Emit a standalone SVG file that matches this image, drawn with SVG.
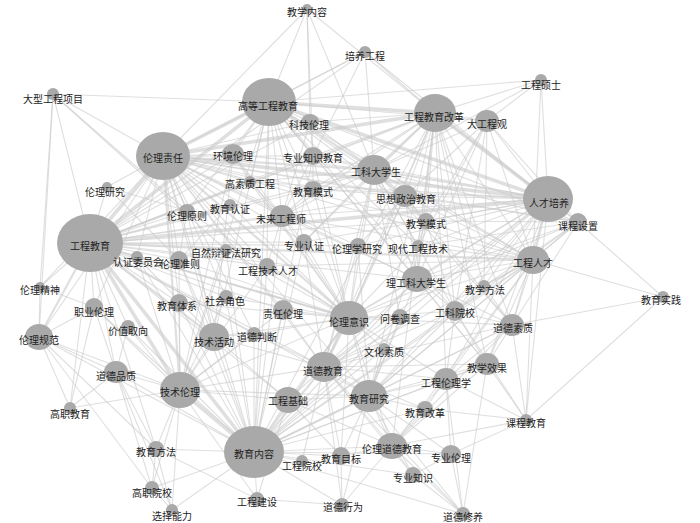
<svg xmlns="http://www.w3.org/2000/svg" width="700" height="523" viewBox="0 0 700 523">
<style>
#edges line{stroke:#c9c9c9;stroke-opacity:.6;stroke-width:1.1}
#edges line.m{stroke-width:2.2}
#edges line.t{stroke-width:3.6}
.nd ellipse{fill:#a9a9a9}
.nd text{font-family:"Noto Sans CJK SC","Noto Sans",sans-serif;font-size:10px;fill:#222;text-anchor:middle;dominant-baseline:central}
</style>
<rect width="700" height="523" fill="#fff"/>
<g id="edges">
<line x1="307" y1="9" x2="269" y2="102"/><line x1="307" y1="9" x2="310" y2="122"/><line x1="307" y1="9" x2="163" y2="156"/><line x1="307" y1="9" x2="435" y2="113"/><line x1="307" y1="9" x2="374" y2="170"/><line x1="307" y1="9" x2="313" y2="156"/>
<line x1="365" y1="52" x2="269" y2="102"/><line x1="365" y1="52" x2="163" y2="156"/><line x1="365" y1="52" x2="435" y2="113"/><line x1="365" y1="52" x2="374" y2="170"/><line x1="365" y1="52" x2="548" y2="199"/><line x1="365" y1="52" x2="90" y2="243"/><line x1="365" y1="52" x2="313" y2="156"/>
<line x1="541" y1="80" x2="269" y2="102"/><line x1="541" y1="80" x2="435" y2="113"/><line x1="541" y1="80" x2="487" y2="121"/><line x1="541" y1="80" x2="548" y2="199"/><line x1="541" y1="80" x2="533" y2="260"/><line x1="541" y1="80" x2="374" y2="170"/>
<line x1="53" y1="94" x2="269" y2="102"/><line x1="53" y1="94" x2="163" y2="156"/><line x1="53" y1="94" x2="90" y2="243"/><line x1="53" y1="94" x2="39" y2="337"/><line x1="53" y1="94" x2="226" y2="250"/><line x1="53" y1="94" x2="187" y2="211"/><line x1="53" y1="94" x2="40" y2="287"/>
<line class="t" x1="269" y1="102" x2="435" y2="113"/><line x1="269" y1="102" x2="487" y2="121"/><line x1="269" y1="102" x2="310" y2="122"/><line class="t" x1="269" y1="102" x2="163" y2="156"/><line x1="269" y1="102" x2="233" y2="154"/><line x1="269" y1="102" x2="313" y2="156"/><line class="m" x1="269" y1="102" x2="374" y2="170"/><line x1="269" y1="102" x2="250" y2="182"/><line x1="269" y1="102" x2="313" y2="189"/><line x1="269" y1="102" x2="405" y2="196"/><line class="t" x1="269" y1="102" x2="548" y2="199"/><line x1="269" y1="102" x2="187" y2="211"/><line x1="269" y1="102" x2="282" y2="216"/><line x1="269" y1="102" x2="426" y2="221"/><line x1="269" y1="102" x2="578" y2="222"/><line class="t" x1="269" y1="102" x2="90" y2="243"/><line x1="269" y1="102" x2="304" y2="242"/><line x1="269" y1="102" x2="418" y2="246"/><line x1="269" y1="102" x2="267" y2="266"/><line x1="269" y1="102" x2="533" y2="260"/><line x1="269" y1="102" x2="417" y2="279"/><line x1="269" y1="102" x2="349" y2="318"/><line x1="269" y1="102" x2="455" y2="311"/><line x1="269" y1="102" x2="214" y2="337"/><line x1="269" y1="102" x2="487" y2="364"/><line x1="269" y1="102" x2="180" y2="390"/><line x1="269" y1="102" x2="254" y2="452"/>
<line x1="435" y1="113" x2="487" y2="121"/><line x1="435" y1="113" x2="310" y2="122"/><line class="t" x1="435" y1="113" x2="163" y2="156"/><line x1="435" y1="113" x2="313" y2="156"/><line class="m" x1="435" y1="113" x2="374" y2="170"/><line x1="435" y1="113" x2="313" y2="189"/><line x1="435" y1="113" x2="405" y2="196"/><line class="t" x1="435" y1="113" x2="548" y2="199"/><line x1="435" y1="113" x2="282" y2="216"/><line x1="435" y1="113" x2="426" y2="221"/><line x1="435" y1="113" x2="578" y2="222"/><line class="m" x1="435" y1="113" x2="90" y2="243"/><line x1="435" y1="113" x2="304" y2="242"/><line x1="435" y1="113" x2="418" y2="246"/><line x1="435" y1="113" x2="533" y2="260"/><line x1="435" y1="113" x2="417" y2="279"/><line x1="435" y1="113" x2="484" y2="286"/><line x1="435" y1="113" x2="349" y2="318"/><line x1="435" y1="113" x2="455" y2="311"/><line x1="435" y1="113" x2="512" y2="325"/><line x1="435" y1="113" x2="487" y2="364"/><line x1="435" y1="113" x2="324" y2="367"/><line x1="435" y1="113" x2="446" y2="379"/><line x1="435" y1="113" x2="369" y2="396"/><line x1="435" y1="113" x2="254" y2="452"/><line x1="435" y1="113" x2="392" y2="446"/>
<line x1="487" y1="121" x2="374" y2="170"/><line x1="487" y1="121" x2="405" y2="196"/><line x1="487" y1="121" x2="548" y2="199"/><line x1="487" y1="121" x2="426" y2="221"/><line x1="487" y1="121" x2="578" y2="222"/><line x1="487" y1="121" x2="418" y2="246"/><line x1="487" y1="121" x2="533" y2="260"/><line x1="487" y1="121" x2="417" y2="279"/><line x1="487" y1="121" x2="455" y2="311"/><line x1="487" y1="121" x2="484" y2="286"/>
<line x1="310" y1="122" x2="163" y2="156"/><line x1="310" y1="122" x2="374" y2="170"/><line x1="310" y1="122" x2="313" y2="156"/><line x1="310" y1="122" x2="90" y2="243"/><line x1="310" y1="122" x2="282" y2="216"/>
<line x1="163" y1="156" x2="233" y2="154"/><line x1="163" y1="156" x2="313" y2="156"/><line class="m" x1="163" y1="156" x2="374" y2="170"/><line x1="163" y1="156" x2="250" y2="182"/><line x1="163" y1="156" x2="313" y2="189"/><line x1="163" y1="156" x2="405" y2="196"/><line class="t" x1="163" y1="156" x2="548" y2="199"/><line x1="163" y1="156" x2="107" y2="187"/><line x1="163" y1="156" x2="230" y2="205"/><line x1="163" y1="156" x2="187" y2="211"/><line x1="163" y1="156" x2="282" y2="216"/><line x1="163" y1="156" x2="426" y2="221"/><line x1="163" y1="156" x2="578" y2="222"/><line class="t" x1="163" y1="156" x2="90" y2="243"/><line x1="163" y1="156" x2="304" y2="242"/><line x1="163" y1="156" x2="358" y2="246"/><line x1="163" y1="156" x2="137" y2="257"/><line x1="163" y1="156" x2="179" y2="260"/><line x1="163" y1="156" x2="267" y2="266"/><line x1="163" y1="156" x2="533" y2="260"/><line x1="163" y1="156" x2="417" y2="279"/><line x1="163" y1="156" x2="226" y2="297"/><line x1="163" y1="156" x2="94" y2="307"/><line x1="163" y1="156" x2="179" y2="303"/><line x1="163" y1="156" x2="283" y2="310"/><line class="m" x1="163" y1="156" x2="349" y2="318"/><line x1="163" y1="156" x2="39" y2="337"/><line x1="163" y1="156" x2="214" y2="337"/><line x1="163" y1="156" x2="254" y2="334"/><line x1="163" y1="156" x2="324" y2="367"/><line class="m" x1="163" y1="156" x2="180" y2="390"/><line x1="163" y1="156" x2="369" y2="396"/><line x1="163" y1="156" x2="254" y2="452"/>
<line x1="233" y1="154" x2="90" y2="243"/><line x1="233" y1="154" x2="374" y2="170"/><line x1="233" y1="154" x2="282" y2="216"/><line x1="233" y1="154" x2="250" y2="182"/><line x1="233" y1="154" x2="214" y2="337"/><line x1="233" y1="154" x2="180" y2="390"/><line x1="233" y1="154" x2="349" y2="318"/>
<line x1="313" y1="156" x2="374" y2="170"/><line x1="313" y1="156" x2="313" y2="189"/><line x1="313" y1="156" x2="282" y2="216"/><line x1="313" y1="156" x2="90" y2="243"/><line x1="313" y1="156" x2="548" y2="199"/><line x1="313" y1="156" x2="349" y2="318"/><line x1="313" y1="156" x2="254" y2="452"/>
<line x1="374" y1="170" x2="250" y2="182"/><line x1="374" y1="170" x2="313" y2="189"/><line x1="374" y1="170" x2="405" y2="196"/><line class="m" x1="374" y1="170" x2="548" y2="199"/><line x1="374" y1="170" x2="282" y2="216"/><line x1="374" y1="170" x2="426" y2="221"/><line x1="374" y1="170" x2="578" y2="222"/><line x1="374" y1="170" x2="90" y2="243"/><line x1="374" y1="170" x2="304" y2="242"/><line x1="374" y1="170" x2="358" y2="246"/><line x1="374" y1="170" x2="418" y2="246"/><line x1="374" y1="170" x2="533" y2="260"/><line x1="374" y1="170" x2="417" y2="279"/><line x1="374" y1="170" x2="349" y2="318"/><line x1="374" y1="170" x2="400" y2="317"/><line x1="374" y1="170" x2="455" y2="311"/><line x1="374" y1="170" x2="512" y2="325"/><line x1="374" y1="170" x2="324" y2="367"/>
<line x1="250" y1="182" x2="90" y2="243"/><line x1="250" y1="182" x2="282" y2="216"/><line x1="250" y1="182" x2="548" y2="199"/><line x1="250" y1="182" x2="349" y2="318"/>
<line x1="313" y1="189" x2="548" y2="199"/><line x1="313" y1="189" x2="90" y2="243"/><line x1="313" y1="189" x2="282" y2="216"/><line x1="313" y1="189" x2="349" y2="318"/><line x1="313" y1="189" x2="405" y2="196"/>
<line x1="405" y1="196" x2="548" y2="199"/><line x1="405" y1="196" x2="578" y2="222"/><line x1="405" y1="196" x2="90" y2="243"/><line x1="405" y1="196" x2="533" y2="260"/><line x1="405" y1="196" x2="417" y2="279"/><line x1="405" y1="196" x2="349" y2="318"/><line x1="405" y1="196" x2="324" y2="367"/><line x1="405" y1="196" x2="512" y2="325"/><line x1="405" y1="196" x2="426" y2="221"/><line x1="405" y1="196" x2="358" y2="246"/>
<line x1="548" y1="199" x2="282" y2="216"/><line x1="548" y1="199" x2="426" y2="221"/><line x1="548" y1="199" x2="578" y2="222"/><line class="t" x1="548" y1="199" x2="90" y2="243"/><line x1="548" y1="199" x2="358" y2="246"/><line x1="548" y1="199" x2="418" y2="246"/><line class="m" x1="548" y1="199" x2="533" y2="260"/><line x1="548" y1="199" x2="417" y2="279"/><line x1="548" y1="199" x2="484" y2="286"/><line x1="548" y1="199" x2="349" y2="318"/><line x1="548" y1="199" x2="400" y2="317"/><line x1="548" y1="199" x2="455" y2="311"/><line x1="548" y1="199" x2="512" y2="325"/><line x1="548" y1="199" x2="487" y2="364"/><line x1="548" y1="199" x2="324" y2="367"/><line x1="548" y1="199" x2="446" y2="379"/><line x1="548" y1="199" x2="369" y2="396"/><line x1="548" y1="199" x2="526" y2="420"/><line x1="548" y1="199" x2="254" y2="452"/>
<line x1="107" y1="187" x2="90" y2="243"/><line x1="107" y1="187" x2="179" y2="260"/><line x1="107" y1="187" x2="187" y2="211"/>
<line x1="230" y1="205" x2="90" y2="243"/><line x1="230" y1="205" x2="349" y2="318"/><line x1="230" y1="205" x2="179" y2="260"/>
<line x1="187" y1="211" x2="90" y2="243"/><line x1="187" y1="211" x2="179" y2="260"/><line x1="187" y1="211" x2="349" y2="318"/><line x1="187" y1="211" x2="214" y2="337"/>
<line x1="282" y1="216" x2="90" y2="243"/><line x1="282" y1="216" x2="304" y2="242"/><line x1="282" y1="216" x2="267" y2="266"/><line x1="282" y1="216" x2="533" y2="260"/><line x1="282" y1="216" x2="349" y2="318"/><line x1="282" y1="216" x2="254" y2="452"/><line x1="282" y1="216" x2="417" y2="279"/>
<line x1="426" y1="221" x2="90" y2="243"/><line x1="426" y1="221" x2="578" y2="222"/><line x1="426" y1="221" x2="533" y2="260"/><line x1="426" y1="221" x2="417" y2="279"/><line x1="426" y1="221" x2="455" y2="311"/><line x1="426" y1="221" x2="369" y2="396"/>
<line x1="578" y1="222" x2="533" y2="260"/><line x1="578" y1="222" x2="417" y2="279"/><line x1="578" y1="222" x2="663" y2="297"/><line x1="578" y1="222" x2="455" y2="311"/><line x1="578" y1="222" x2="512" y2="325"/><line x1="578" y1="222" x2="418" y2="246"/><line x1="578" y1="222" x2="484" y2="286"/><line x1="578" y1="222" x2="349" y2="318"/><line x1="578" y1="222" x2="369" y2="396"/>
<line x1="90" y1="243" x2="304" y2="242"/><line x1="90" y1="243" x2="358" y2="246"/><line x1="90" y1="243" x2="226" y2="250"/><line x1="90" y1="243" x2="137" y2="257"/><line x1="90" y1="243" x2="179" y2="260"/><line x1="90" y1="243" x2="267" y2="266"/><line class="m" x1="90" y1="243" x2="533" y2="260"/><line x1="90" y1="243" x2="40" y2="287"/><line x1="90" y1="243" x2="417" y2="279"/><line x1="90" y1="243" x2="226" y2="297"/><line x1="90" y1="243" x2="94" y2="307"/><line x1="90" y1="243" x2="179" y2="303"/><line x1="90" y1="243" x2="283" y2="310"/><line class="m" x1="90" y1="243" x2="349" y2="318"/><line x1="90" y1="243" x2="128" y2="327"/><line class="m" x1="90" y1="243" x2="39" y2="337"/><line class="m" x1="90" y1="243" x2="214" y2="337"/><line x1="90" y1="243" x2="254" y2="334"/><line x1="90" y1="243" x2="324" y2="367"/><line x1="90" y1="243" x2="116" y2="372"/><line class="t" x1="90" y1="243" x2="180" y2="390"/><line x1="90" y1="243" x2="369" y2="396"/><line x1="90" y1="243" x2="288" y2="400"/><line x1="90" y1="243" x2="70" y2="408"/><line class="t" x1="90" y1="243" x2="254" y2="452"/><line x1="90" y1="243" x2="156" y2="449"/>
<line x1="304" y1="242" x2="349" y2="318"/><line x1="304" y1="242" x2="324" y2="367"/><line x1="304" y1="242" x2="254" y2="452"/><line x1="304" y1="242" x2="548" y2="199"/>
<line x1="358" y1="246" x2="349" y2="318"/><line x1="358" y1="246" x2="324" y2="367"/><line x1="358" y1="246" x2="369" y2="396"/>
<line x1="418" y1="246" x2="533" y2="260"/><line x1="418" y1="246" x2="417" y2="279"/><line x1="418" y1="246" x2="349" y2="318"/>
<line x1="226" y1="250" x2="349" y2="318"/><line x1="226" y1="250" x2="180" y2="390"/><line x1="226" y1="250" x2="254" y2="452"/>
<line x1="137" y1="257" x2="180" y2="390"/><line x1="137" y1="257" x2="349" y2="318"/><line x1="137" y1="257" x2="254" y2="452"/><line x1="137" y1="257" x2="214" y2="337"/>
<line x1="179" y1="260" x2="180" y2="390"/><line x1="179" y1="260" x2="349" y2="318"/><line x1="179" y1="260" x2="214" y2="337"/><line x1="179" y1="260" x2="254" y2="452"/>
<line x1="267" y1="266" x2="349" y2="318"/><line x1="267" y1="266" x2="180" y2="390"/><line x1="267" y1="266" x2="254" y2="452"/><line x1="267" y1="266" x2="533" y2="260"/>
<line x1="533" y1="260" x2="417" y2="279"/><line x1="533" y1="260" x2="484" y2="286"/><line x1="533" y1="260" x2="663" y2="297"/><line x1="533" y1="260" x2="349" y2="318"/><line x1="533" y1="260" x2="455" y2="311"/><line x1="533" y1="260" x2="512" y2="325"/><line x1="533" y1="260" x2="487" y2="364"/><line x1="533" y1="260" x2="324" y2="367"/><line x1="533" y1="260" x2="446" y2="379"/><line x1="533" y1="260" x2="369" y2="396"/><line x1="533" y1="260" x2="526" y2="420"/><line x1="533" y1="260" x2="254" y2="452"/><line x1="533" y1="260" x2="392" y2="446"/>
<line x1="40" y1="287" x2="39" y2="337"/><line x1="40" y1="287" x2="163" y2="156"/><line x1="40" y1="287" x2="94" y2="307"/>
<line x1="417" y1="279" x2="349" y2="318"/><line x1="417" y1="279" x2="455" y2="311"/><line x1="417" y1="279" x2="512" y2="325"/><line x1="417" y1="279" x2="324" y2="367"/><line x1="417" y1="279" x2="369" y2="396"/><line x1="417" y1="279" x2="487" y2="364"/><line x1="417" y1="279" x2="254" y2="452"/>
<line x1="484" y1="286" x2="512" y2="325"/><line x1="484" y1="286" x2="455" y2="311"/>
<line x1="663" y1="297" x2="512" y2="325"/><line x1="663" y1="297" x2="526" y2="420"/>
<line x1="226" y1="297" x2="180" y2="390"/><line x1="226" y1="297" x2="254" y2="452"/><line x1="226" y1="297" x2="349" y2="318"/>
<line x1="94" y1="307" x2="39" y2="337"/><line x1="94" y1="307" x2="180" y2="390"/><line x1="94" y1="307" x2="254" y2="452"/><line x1="94" y1="307" x2="116" y2="372"/><line x1="94" y1="307" x2="70" y2="408"/>
<line x1="179" y1="303" x2="180" y2="390"/><line x1="179" y1="303" x2="254" y2="452"/><line x1="179" y1="303" x2="349" y2="318"/>
<line x1="283" y1="310" x2="349" y2="318"/><line x1="283" y1="310" x2="324" y2="367"/><line x1="283" y1="310" x2="180" y2="390"/><line x1="283" y1="310" x2="254" y2="452"/>
<line x1="349" y1="318" x2="400" y2="317"/><line x1="349" y1="318" x2="455" y2="311"/><line x1="349" y1="318" x2="512" y2="325"/><line x1="349" y1="318" x2="214" y2="337"/><line x1="349" y1="318" x2="254" y2="334"/><line x1="349" y1="318" x2="384" y2="349"/><line class="m" x1="349" y1="318" x2="324" y2="367"/><line x1="349" y1="318" x2="180" y2="390"/><line x1="349" y1="318" x2="446" y2="379"/><line x1="349" y1="318" x2="369" y2="396"/><line x1="349" y1="318" x2="288" y2="400"/><line class="m" x1="349" y1="318" x2="254" y2="452"/><line x1="349" y1="318" x2="392" y2="446"/><line x1="349" y1="318" x2="341" y2="456"/>
<line x1="400" y1="317" x2="324" y2="367"/><line x1="400" y1="317" x2="369" y2="396"/><line x1="400" y1="317" x2="254" y2="452"/>
<line x1="455" y1="311" x2="512" y2="325"/><line x1="455" y1="311" x2="487" y2="364"/><line x1="455" y1="311" x2="324" y2="367"/><line x1="455" y1="311" x2="446" y2="379"/><line x1="455" y1="311" x2="369" y2="396"/><line x1="455" y1="311" x2="254" y2="452"/><line x1="455" y1="311" x2="526" y2="420"/>
<line x1="512" y1="325" x2="487" y2="364"/><line x1="512" y1="325" x2="324" y2="367"/><line x1="512" y1="325" x2="446" y2="379"/><line x1="512" y1="325" x2="369" y2="396"/><line x1="512" y1="325" x2="526" y2="420"/><line x1="512" y1="325" x2="254" y2="452"/><line x1="512" y1="325" x2="392" y2="446"/>
<line x1="128" y1="327" x2="180" y2="390"/><line x1="128" y1="327" x2="254" y2="452"/><line x1="128" y1="327" x2="116" y2="372"/>
<line x1="39" y1="337" x2="116" y2="372"/><line x1="39" y1="337" x2="180" y2="390"/><line x1="39" y1="337" x2="70" y2="408"/><line x1="39" y1="337" x2="254" y2="452"/><line x1="39" y1="337" x2="156" y2="449"/><line x1="39" y1="337" x2="152" y2="488"/>
<line x1="214" y1="337" x2="254" y2="334"/><line x1="214" y1="337" x2="324" y2="367"/><line x1="214" y1="337" x2="180" y2="390"/><line x1="214" y1="337" x2="288" y2="400"/><line x1="214" y1="337" x2="254" y2="452"/>
<line x1="254" y1="334" x2="180" y2="390"/><line x1="254" y1="334" x2="254" y2="452"/><line x1="254" y1="334" x2="324" y2="367"/>
<line x1="384" y1="349" x2="324" y2="367"/><line x1="384" y1="349" x2="369" y2="396"/><line x1="384" y1="349" x2="254" y2="452"/>
<line x1="487" y1="364" x2="324" y2="367"/><line x1="487" y1="364" x2="446" y2="379"/><line x1="487" y1="364" x2="369" y2="396"/><line x1="487" y1="364" x2="526" y2="420"/><line x1="487" y1="364" x2="254" y2="452"/><line x1="487" y1="364" x2="392" y2="446"/><line x1="487" y1="364" x2="463" y2="514"/>
<line x1="324" y1="367" x2="446" y2="379"/><line x1="324" y1="367" x2="369" y2="396"/><line x1="324" y1="367" x2="288" y2="400"/><line x1="324" y1="367" x2="425" y2="409"/><line class="m" x1="324" y1="367" x2="254" y2="452"/><line x1="324" y1="367" x2="392" y2="446"/><line x1="324" y1="367" x2="341" y2="456"/><line x1="324" y1="367" x2="302" y2="461"/><line x1="324" y1="367" x2="413" y2="475"/><line x1="324" y1="367" x2="342" y2="505"/><line x1="324" y1="367" x2="463" y2="514"/>
<line x1="116" y1="372" x2="180" y2="390"/><line x1="116" y1="372" x2="70" y2="408"/><line x1="116" y1="372" x2="254" y2="452"/><line x1="116" y1="372" x2="156" y2="449"/><line x1="116" y1="372" x2="152" y2="488"/><line x1="116" y1="372" x2="172" y2="510"/>
<line x1="180" y1="390" x2="288" y2="400"/><line x1="180" y1="390" x2="70" y2="408"/><line class="t" x1="180" y1="390" x2="254" y2="452"/><line x1="180" y1="390" x2="156" y2="449"/><line x1="180" y1="390" x2="152" y2="488"/><line x1="180" y1="390" x2="172" y2="510"/><line x1="180" y1="390" x2="257" y2="499"/><line x1="180" y1="390" x2="369" y2="396"/><line x1="180" y1="390" x2="324" y2="367"/>
<line x1="446" y1="379" x2="369" y2="396"/><line x1="446" y1="379" x2="425" y2="409"/><line x1="446" y1="379" x2="526" y2="420"/><line x1="446" y1="379" x2="254" y2="452"/><line x1="446" y1="379" x2="392" y2="446"/><line x1="446" y1="379" x2="451" y2="454"/><line x1="446" y1="379" x2="463" y2="514"/>
<line x1="369" y1="396" x2="288" y2="400"/><line x1="369" y1="396" x2="425" y2="409"/><line class="m" x1="369" y1="396" x2="254" y2="452"/><line x1="369" y1="396" x2="392" y2="446"/><line x1="369" y1="396" x2="451" y2="454"/><line x1="369" y1="396" x2="341" y2="456"/><line x1="369" y1="396" x2="413" y2="475"/><line x1="369" y1="396" x2="342" y2="505"/><line x1="369" y1="396" x2="463" y2="514"/>
<line x1="288" y1="400" x2="254" y2="452"/><line x1="288" y1="400" x2="392" y2="446"/><line x1="288" y1="400" x2="341" y2="456"/><line x1="288" y1="400" x2="257" y2="499"/>
<line x1="425" y1="409" x2="526" y2="420"/><line x1="425" y1="409" x2="254" y2="452"/><line x1="425" y1="409" x2="392" y2="446"/>
<line x1="526" y1="420" x2="392" y2="446"/><line x1="526" y1="420" x2="451" y2="454"/>
<line x1="254" y1="452" x2="156" y2="449"/><line x1="254" y1="452" x2="392" y2="446"/><line x1="254" y1="452" x2="451" y2="454"/><line x1="254" y1="452" x2="341" y2="456"/><line x1="254" y1="452" x2="302" y2="461"/><line x1="254" y1="452" x2="413" y2="475"/><line x1="254" y1="452" x2="152" y2="488"/><line x1="254" y1="452" x2="257" y2="499"/><line x1="254" y1="452" x2="342" y2="505"/><line x1="254" y1="452" x2="463" y2="514"/><line x1="254" y1="452" x2="172" y2="510"/>
<line x1="156" y1="449" x2="152" y2="488"/><line x1="156" y1="449" x2="172" y2="510"/><line x1="156" y1="449" x2="257" y2="499"/>
<line x1="392" y1="446" x2="451" y2="454"/><line x1="392" y1="446" x2="341" y2="456"/><line x1="392" y1="446" x2="413" y2="475"/><line x1="392" y1="446" x2="342" y2="505"/><line x1="392" y1="446" x2="463" y2="514"/>
<line x1="451" y1="454" x2="413" y2="475"/><line x1="451" y1="454" x2="463" y2="514"/>
<line x1="341" y1="456" x2="342" y2="505"/><line x1="413" y1="475" x2="463" y2="514"/><line x1="152" y1="488" x2="172" y2="510"/><line x1="257" y1="499" x2="342" y2="505"/>
</g>
<g id="n1" class="nd"><ellipse cx="307" cy="9" rx="5" ry="5"/><text x="307" y="11">教学内容</text></g>
<g id="n2" class="nd"><ellipse cx="365" cy="52" rx="6" ry="6"/><text x="365" y="55">培养工程</text></g>
<g id="n3" class="nd"><ellipse cx="541" cy="80" rx="6" ry="6"/><text x="541" y="84">工程硕士</text></g>
<g id="n4" class="nd"><ellipse cx="53" cy="94" rx="6" ry="6"/><text x="53" y="98">大型工程项目</text></g>
<g id="n5" class="nd"><ellipse cx="269" cy="102" rx="27" ry="24"/><text x="268" y="105">高等工程教育</text></g>
<g id="n6" class="nd"><ellipse cx="435" cy="113" rx="21" ry="19"/><text x="434" y="116">工程教育改革</text></g>
<g id="n7" class="nd"><ellipse cx="487" cy="121" rx="12" ry="11"/><text x="487" y="123">大工程观</text></g>
<g id="n8" class="nd"><ellipse cx="310" cy="122" rx="9" ry="8"/><text x="309" y="124">科技伦理</text></g>
<g id="n9" class="nd"><ellipse cx="163" cy="156" rx="27" ry="24"/><text x="163" y="157">伦理责任</text></g>
<g id="n10" class="nd"><ellipse cx="233" cy="154" rx="11" ry="10"/><text x="233" y="155">环境伦理</text></g>
<g id="n11" class="nd"><ellipse cx="313" cy="156" rx="10" ry="9"/><text x="313" y="157">专业知识教育</text></g>
<g id="n12" class="nd"><ellipse cx="374" cy="170" rx="17" ry="15"/><text x="376" y="171">工科大学生</text></g>
<g id="n13" class="nd"><ellipse cx="250" cy="182" rx="6" ry="6"/><text x="250" y="183">高素质工程</text></g>
<g id="n14" class="nd"><ellipse cx="313" cy="189" rx="9" ry="8"/><text x="313" y="191">教育模式</text></g>
<g id="n15" class="nd"><ellipse cx="405" cy="196" rx="12" ry="11"/><text x="406" y="198">思想政治教育</text></g>
<g id="n16" class="nd"><ellipse cx="548" cy="199" rx="25" ry="23"/><text x="549" y="202">人才培养</text></g>
<g id="n17" class="nd"><ellipse cx="107" cy="187" rx="5" ry="5"/><text x="105" y="191">伦理研究</text></g>
<g id="n18" class="nd"><ellipse cx="230" cy="205" rx="6" ry="6"/><text x="230" y="208">教育认证</text></g>
<g id="n19" class="nd"><ellipse cx="187" cy="211" rx="8" ry="7"/><text x="187" y="215">伦理原则</text></g>
<g id="n20" class="nd"><ellipse cx="282" cy="216" rx="12" ry="11"/><text x="281" y="218">未来工程师</text></g>
<g id="n21" class="nd"><ellipse cx="426" cy="221" rx="8" ry="8"/><text x="426" y="223">教学模式</text></g>
<g id="n22" class="nd"><ellipse cx="578" cy="222" rx="9" ry="9"/><text x="578" y="225">课程设置</text></g>
<g id="n23" class="nd"><ellipse cx="90" cy="243" rx="33" ry="29"/><text x="90" y="245">工程教育</text></g>
<g id="n24" class="nd"><ellipse cx="304" cy="242" rx="8" ry="8"/><text x="304" y="245">专业认证</text></g>
<g id="n25" class="nd"><ellipse cx="358" cy="246" rx="8" ry="8"/><text x="357" y="248">伦理学研究</text></g>
<g id="n26" class="nd"><ellipse cx="418" cy="246" rx="6" ry="6"/><text x="418" y="248">现代工程技术</text></g>
<g id="n27" class="nd"><ellipse cx="226" cy="250" rx="6" ry="6"/><text x="226" y="252">自然辩证法研究</text></g>
<g id="n28" class="nd"><ellipse cx="137" cy="257" rx="6" ry="6"/><text x="138" y="261">认证委员会</text></g>
<g id="n29" class="nd"><ellipse cx="179" cy="260" rx="9" ry="9"/><text x="180" y="263">伦理准则</text></g>
<g id="n30" class="nd"><ellipse cx="267" cy="266" rx="8" ry="8"/><text x="268" y="270">工程技术人才</text></g>
<g id="n31" class="nd"><ellipse cx="533" cy="260" rx="16" ry="14"/><text x="533" y="262">工程人才</text></g>
<g id="n32" class="nd"><ellipse cx="40" cy="287" rx="5" ry="5"/><text x="40" y="289">伦理精神</text></g>
<g id="n33" class="nd"><ellipse cx="417" cy="279" rx="15" ry="13"/><text x="416" y="282">理工科大学生</text></g>
<g id="n34" class="nd"><ellipse cx="484" cy="286" rx="6" ry="6"/><text x="485" y="289">教学方法</text></g>
<g id="n35" class="nd"><ellipse cx="663" cy="297" rx="6" ry="6"/><text x="661" y="299">教育实践</text></g>
<g id="n36" class="nd"><ellipse cx="226" cy="297" rx="7" ry="7"/><text x="225" y="300">社会角色</text></g>
<g id="n37" class="nd"><ellipse cx="94" cy="307" rx="9" ry="9"/><text x="94" y="311">职业伦理</text></g>
<g id="n38" class="nd"><ellipse cx="179" cy="303" rx="9" ry="9"/><text x="177" y="305">教育体系</text></g>
<g id="n39" class="nd"><ellipse cx="283" cy="310" rx="10" ry="10"/><text x="283" y="313">责任伦理</text></g>
<g id="n40" class="nd"><ellipse cx="349" cy="318" rx="19" ry="17"/><text x="349" y="321">伦理意识</text></g>
<g id="n41" class="nd"><ellipse cx="400" cy="317" rx="8" ry="8"/><text x="400" y="318">问卷调查</text></g>
<g id="n42" class="nd"><ellipse cx="455" cy="311" rx="10" ry="10"/><text x="455" y="312">工科院校</text></g>
<g id="n43" class="nd"><ellipse cx="512" cy="325" rx="12" ry="11"/><text x="513" y="327">道德素质</text></g>
<g id="n44" class="nd"><ellipse cx="128" cy="327" rx="7" ry="7"/><text x="128" y="330">价值取向</text></g>
<g id="n45" class="nd"><ellipse cx="39" cy="337" rx="14" ry="13"/><text x="39" y="339">伦理规范</text></g>
<g id="n46" class="nd"><ellipse cx="214" cy="337" rx="15" ry="14"/><text x="214" y="341">技术活动</text></g>
<g id="n47" class="nd"><ellipse cx="254" cy="334" rx="7" ry="7"/><text x="257" y="336">道德判断</text></g>
<g id="n48" class="nd"><ellipse cx="384" cy="349" rx="6" ry="6"/><text x="384" y="351">文化素质</text></g>
<g id="n49" class="nd"><ellipse cx="487" cy="364" rx="12" ry="11"/><text x="487" y="367">教学效果</text></g>
<g id="n50" class="nd"><ellipse cx="324" cy="367" rx="17" ry="15"/><text x="323" y="370">道德教育</text></g>
<g id="n51" class="nd"><ellipse cx="116" cy="372" rx="12" ry="11"/><text x="116" y="375">道德品质</text></g>
<g id="n52" class="nd"><ellipse cx="180" cy="390" rx="20" ry="18"/><text x="180" y="391">技术伦理</text></g>
<g id="n53" class="nd"><ellipse cx="446" cy="379" rx="12" ry="11"/><text x="446" y="382">工程伦理学</text></g>
<g id="n54" class="nd"><ellipse cx="369" cy="396" rx="18" ry="16"/><text x="369" y="398">教育研究</text></g>
<g id="n55" class="nd"><ellipse cx="288" cy="400" rx="14" ry="13"/><text x="288" y="400">工程基础</text></g>
<g id="n56" class="nd"><ellipse cx="425" cy="409" rx="8" ry="8"/><text x="425" y="412">教育改革</text></g>
<g id="n57" class="nd"><ellipse cx="526" cy="420" rx="6" ry="6"/><text x="526" y="422">课程教育</text></g>
<g id="n58" class="nd"><ellipse cx="70" cy="408" rx="6" ry="6"/><text x="70" y="413">高职教育</text></g>
<g id="n59" class="nd"><ellipse cx="254" cy="452" rx="30" ry="26"/><text x="254" y="453">教育内容</text></g>
<g id="n60" class="nd"><ellipse cx="156" cy="449" rx="8" ry="8"/><text x="156" y="451">教育方法</text></g>
<g id="n61" class="nd"><ellipse cx="392" cy="446" rx="15" ry="13"/><text x="392" y="448">伦理道德教育</text></g>
<g id="n62" class="nd"><ellipse cx="451" cy="454" rx="10" ry="9"/><text x="451" y="457">专业伦理</text></g>
<g id="n63" class="nd"><ellipse cx="341" cy="456" rx="9" ry="9"/><text x="341" y="458">教育目标</text></g>
<g id="n64" class="nd"><ellipse cx="302" cy="461" rx="6" ry="6"/><text x="302" y="465">工程院校</text></g>
<g id="n65" class="nd"><ellipse cx="413" cy="475" rx="8" ry="8"/><text x="413" y="477">专业知识</text></g>
<g id="n66" class="nd"><ellipse cx="152" cy="488" rx="7" ry="7"/><text x="152" y="492">高职院校</text></g>
<g id="n67" class="nd"><ellipse cx="257" cy="499" rx="7" ry="7"/><text x="257" y="501">工程建设</text></g>
<g id="n68" class="nd"><ellipse cx="342" cy="505" rx="7" ry="7"/><text x="343" y="506">道德行为</text></g>
<g id="n69" class="nd"><ellipse cx="463" cy="514" rx="7" ry="7"/><text x="463" y="516">道德修养</text></g>
<g id="n70" class="nd"><ellipse cx="172" cy="510" rx="6" ry="6"/><text x="172" y="515">选择能力</text></g>
</svg>
